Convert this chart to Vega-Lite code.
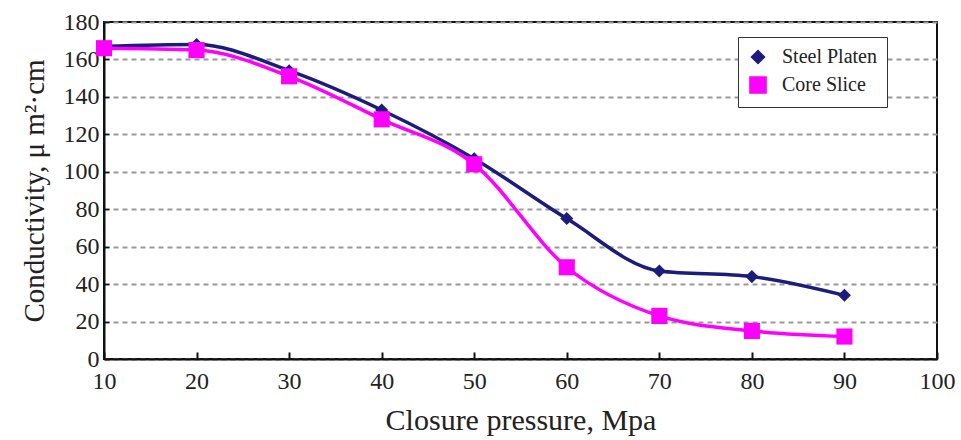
{
  "$schema": "https://vega.github.io/schema/vega-lite/v6.json",
  "autosize": {"type": "none"},
  "width": 833,
  "height": 337,
  "padding": {"left": 104, "top": 22, "right": 24, "bottom": 81},
  "background": "white",
  "config": {
    "font": "Liberation Serif",
    "view": {"stroke": "#111", "strokeWidth": 2},
    "legend": {"strokeColor": "#333"}
  },
  "data": {
    "values": [
      {"pressure": 10, "conductivity": 167, "series": "Steel Platen"},
      {"pressure": 20, "conductivity": 168, "series": "Steel Platen"},
      {"pressure": 30, "conductivity": 154, "series": "Steel Platen"},
      {"pressure": 40, "conductivity": 133, "series": "Steel Platen"},
      {"pressure": 50, "conductivity": 107, "series": "Steel Platen"},
      {"pressure": 60, "conductivity": 75, "series": "Steel Platen"},
      {"pressure": 70, "conductivity": 47, "series": "Steel Platen"},
      {"pressure": 80, "conductivity": 44, "series": "Steel Platen"},
      {"pressure": 90, "conductivity": 34, "series": "Steel Platen"},
      {"pressure": 10, "conductivity": 166, "series": "Core Slice"},
      {"pressure": 20, "conductivity": 165, "series": "Core Slice"},
      {"pressure": 30, "conductivity": 151, "series": "Core Slice"},
      {"pressure": 40, "conductivity": 128, "series": "Core Slice"},
      {"pressure": 50, "conductivity": 104, "series": "Core Slice"},
      {"pressure": 60, "conductivity": 49, "series": "Core Slice"},
      {"pressure": 70, "conductivity": 23, "series": "Core Slice"},
      {"pressure": 80, "conductivity": 15, "series": "Core Slice"},
      {"pressure": 90, "conductivity": 12, "series": "Core Slice"}
    ]
  },
  "encoding": {
    "x": {
      "field": "pressure", "type": "quantitative",
      "scale": {"domain": [10, 100], "nice": false},
      "axis": {
        "values": [10, 20, 30, 40, 50, 60, 70, 80, 90, 100],
        "title": "Closure pressure, Mpa",
        "titleFont": "Liberation Serif", "titleFontSize": 30, "titleFontWeight": "normal",
        "titleColor": "#222", "titlePadding": 12,
        "labelFont": "Liberation Serif", "labelFontSize": 24, "labelColor": "#222",
        "labelPadding": 17,
        "grid": false, "domainColor": "#111", "domainWidth": 2,
        "tickColor": "#111", "tickWidth": 2, "tickSize": -7,
        "labelFlush": false
      }
    },
    "y": {
      "field": "conductivity", "type": "quantitative",
      "scale": {"domain": [0, 180], "nice": false},
      "axis": {
        "values": [0, 20, 40, 60, 80, 100, 120, 140, 160, 180],
        "title": "Conductivity, μ m²·cm",
        "titleFont": "Liberation Serif", "titleFontSize": 29, "titleFontWeight": "normal",
        "titleColor": "#222", "titlePadding": 14,
        "labelFont": "Liberation Serif", "labelFontSize": 24, "labelColor": "#222",
        "labelPadding": 10,
        "grid": true, "gridColor": "#999", "gridDash": [5, 4], "gridWidth": 1.8,
        "domainColor": "#111", "domainWidth": 2,
        "tickColor": "#111", "tickWidth": 1.5, "tickSize": -5
      }
    },
    "color": {
      "field": "series", "type": "nominal",
      "scale": {"domain": ["Steel Platen", "Core Slice"], "range": ["#1c1c7c", "#ff00ff"]},
      "legend": {
        "title": null, "orient": "none", "legendX": 634, "legendY": 15,
        "strokeColor": "#333", "padding": 10, "fillColor": "white",
        "labelFont": "Liberation Serif", "labelFontSize": 20, "labelColor": "#222",
        "symbolSize": 200, "rowPadding": 6, "labelOffset": 14
      }
    }
  },
  "layer": [
    {
      "mark": {"type": "line", "interpolate": "monotone", "strokeWidth": 3.5}
    },
    {
      "mark": {"type": "point", "filled": true, "opacity": 1},
      "encoding": {
        "shape": {
          "field": "series", "type": "nominal",
          "scale": {"domain": ["Steel Platen", "Core Slice"], "range": ["diamond", "square"]},
          "legend": null
        },
        "size": {
          "field": "series", "type": "nominal",
          "scale": {"domain": ["Steel Platen", "Core Slice"], "range": [170, 260]},
          "legend": null
        }
      }
    }
  ]
}
